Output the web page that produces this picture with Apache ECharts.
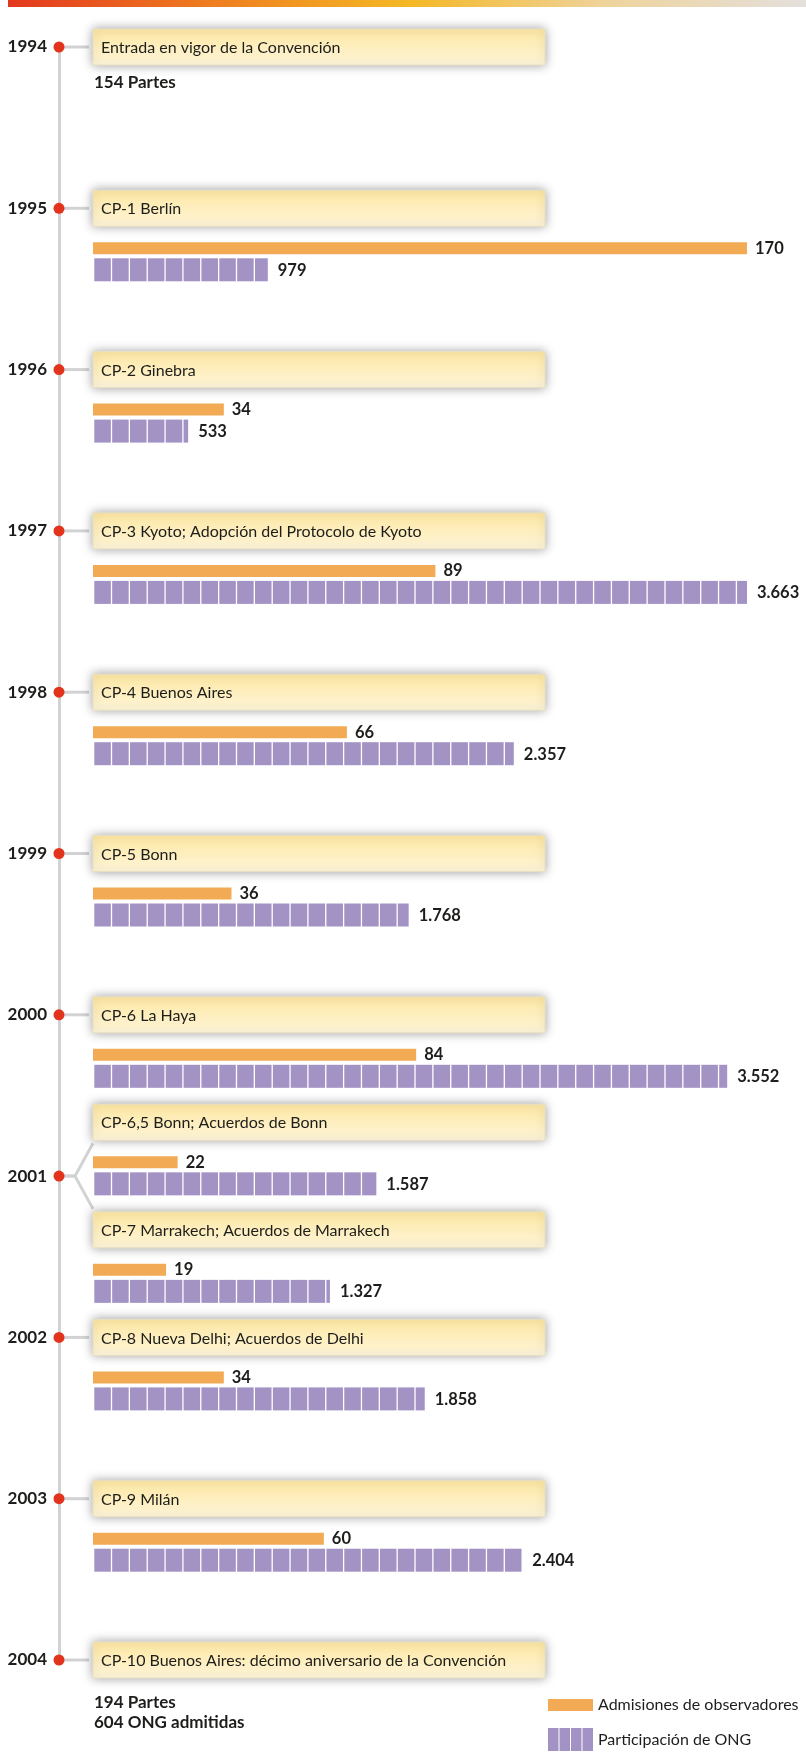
<!DOCTYPE html>
<html>
<head>
<meta charset="utf-8">
<script src="https://cdn.jsdelivr.net/npm/echarts@6/dist/echarts.min.js"></script>
<style>
  html, body { margin: 0; padding: 0; background: #ffffff; }
  #chart { width: 806px; height: 1764px; }
</style>
</head>
<body>
<div id="chart"></div>
<script>
// Timeline years and their tick labels
const years = [1994, 1995, 1996, 1997, 1998, 1999, 2000, 2001, 2002, 2003, 2004];
const yearLabels = ['1994', '1995', '1996', '1997', '1998', '1999', '2000', '2001', '2002', '2003', '2004'];

// Conferences, one entry per event
const eventYears = [1994, 1995, 1996, 1997, 1998, 1999, 2000, 2001, 2001, 2002, 2003, 2004];
const eventNames = [
  'Entrada en vigor de la Convención',
  'CP-1 Berlín',
  'CP-2 Ginebra',
  'CP-3 Kyoto; Adopción del Protocolo de Kyoto',
  'CP-4 Buenos Aires',
  'CP-5 Bonn',
  'CP-6 La Haya',
  'CP-6,5 Bonn; Acuerdos de Bonn',
  'CP-7 Marrakech; Acuerdos de Marrakech',
  'CP-8 Nueva Delhi; Acuerdos de Delhi',
  'CP-9 Milán',
  'CP-10 Buenos Aires: décimo aniversario de la Convención'
];
const eventNotes = [
  ['154 Partes'], [], [], [], [], [], [], [], [], [], [],
  ['194 Partes', '604 ONG admitidas']
];

// Series values per event (null = no data shown)
const observerAdmissions = [null, 170, 34, 89, 66, 36, 84, 22, 19, 34, 60, null];
const ngoParticipation  = [null, 979, 533, 3663, 2357, 1768, 3552, 1587, 1327, 1858, 2404, null];
const seriesNames = ['Admisiones de observadores', 'Participación de ONG'];

// ---- layout and styling ----
const ORANGE = '#f2aa55';
const PURPLE = '#a393c5';
const TEXT = '#1d1d1b';
const FONT = 'Lato, "Open Sans", sans-serif';
const BOX_W = 452, BOX_H = 36;
const NGO_UNIT = 100; // one block per 100 organisations
// vertical offsets (px below the event line) of note lines, by number of lines
const NOTE_OFFSETS = { 1: [36], 2: [43, 63] };

// events sharing a year are spread around that year on the timeline
const eventPos = eventYears.map((y, i) => {
  const group = [];
  eventYears.forEach((yy, j) => { if (yy === y) group.push(j); });
  if (group.length < 2) return y;
  const k = group.indexOf(i);
  return y + (k - (group.length - 1) / 2) * (2 / 3) / (group.length - 1);
});

function fmt(v) {
  return String(v).replace(/\B(?=(\d{3})+(?!\d))/g, '.');
}

function connectorItem(params, api) {
  const p0 = api.coord([0, api.value(1)]);
  const p1 = api.coord([0, api.value(2)]);
  let pts;
  if (Math.abs(p0[1] - p1[1]) < 0.5) {
    pts = [[p0[0], p0[1]], [p0[0] + 30, p0[1]]];
  } else {
    const dir = p1[1] < p0[1] ? 1 : -1;
    pts = [[p0[0], p0[1]], [p0[0] + 16, p0[1]], [p0[0] + 34, p1[1] + dir * 21]];
  }
  return {
    type: 'polyline',
    shape: { points: pts },
    style: { stroke: '#d2d2d2', lineWidth: 3, fill: null, lineJoin: 'round' }
  };
}

function boxItem(params, api) {
  const idx = api.value(2);
  const p = api.coord([0, api.value(1)]);
  const children = [
    {
      type: 'rect',
      shape: { x: p[0], y: p[1] - BOX_H / 2, width: BOX_W, height: BOX_H },
      style: {
        fill: { type: 'linear', x: 0, y: 0, x2: 0, y2: 1,
          colorStops: [{ offset: 0, color: '#fde7a2' }, { offset: 1, color: '#fff6da' }] },
        stroke: '#e8dfc2', lineWidth: 1,
        shadowBlur: 10, shadowColor: 'rgba(0,0,0,0.35)'
      }
    },
    {
      type: 'text',
      x: p[0] + 8, y: p[1] + 1,
      style: { text: eventNames[idx], fill: TEXT, fontSize: 16, fontFamily: FONT, verticalAlign: 'middle' }
    }
  ];
  const notes = eventNotes[idx];
  const offs = NOTE_OFFSETS[notes.length] || [];
  notes.forEach((line, k) => {
    children.push({
      type: 'text',
      x: p[0] + 1, y: p[1] + offs[k],
      style: { text: line, fill: TEXT, fontSize: 17, fontWeight: 'bold', fontFamily: FONT, verticalAlign: 'middle' }
    });
  });
  return { type: 'group', children };
}

function observerItem(params, api) {
  const v = api.value(0);
  const pos = api.value(1);
  const a = api.coord([0, pos]);
  const b = api.coord([v, pos]);
  return {
    type: 'group',
    children: [
      { type: 'rect', shape: { x: a[0], y: a[1] + 34, width: b[0] - a[0], height: 12 },
        style: { fill: ORANGE } },
      { type: 'text', x: b[0] + 8, y: a[1] + 40,
        style: { text: fmt(v), fill: TEXT, fontSize: 16.5, fontWeight: 'bold', fontFamily: FONT, verticalAlign: 'middle' } }
    ]
  };
}

function ngoItem(params, api) {
  const v = api.value(0);
  const pos = api.value(1);
  const a = api.coord([0, pos]);
  const b = api.coord([v, pos]);
  const unit = api.coord([NGO_UNIT, pos])[0] - a[0];
  const children = [];
  for (let k = 0; a[0] + k * unit < b[0]; k++) {
    const x = a[0] + k * unit + 1.3;
    const w = Math.min(a[0] + (k + 1) * unit, b[0]) - x;
    if (w <= 0) continue;
    children.push({ type: 'rect', shape: { x: x, y: a[1] + 50, width: w, height: 23 }, style: { fill: PURPLE } });
  }
  children.push({ type: 'text', x: b[0] + 10, y: a[1] + 62,
    style: { text: fmt(v), fill: TEXT, fontSize: 16.5, fontWeight: 'bold', fontFamily: FONT, verticalAlign: 'middle' } });
  return { type: 'group', children };
}

const observerData = [];
const ngoData = [];
eventNames.forEach((n, i) => {
  if (observerAdmissions[i] != null) observerData.push([observerAdmissions[i], eventPos[i], i]);
  if (ngoParticipation[i] != null) ngoData.push([ngoParticipation[i], eventPos[i], i]);
});

const chart = echarts.init(document.getElementById('chart'), null, { renderer: 'canvas' });
chart.setOption({
  animation: false,
  backgroundColor: '#ffffff',
  textStyle: { fontFamily: FONT },
  graphic: [{
    type: 'rect', left: 8, top: 0, silent: true,
    shape: { width: 798, height: 7 },
    style: { fill: { type: 'linear', x: 0, y: 0, x2: 1, y2: 0, colorStops: [
      { offset: 0, color: '#e3381f' }, { offset: 0.25, color: '#ee7c1f' },
      { offset: 0.5, color: '#f4b824' }, { offset: 0.75, color: '#efd39c' },
      { offset: 1, color: '#e4e0dc' }] } }
  }],
  grid: [
    { left: 59, top: 47, width: 34, height: 1613 },
    { left: 93, top: 47, width: 654, height: 1613 }
  ],
  xAxis: [
    { gridIndex: 0, type: 'value', min: 0, max: 1, show: false },
    { gridIndex: 1, type: 'value', min: 0, max: Math.max(...observerAdmissions), show: false },
    { gridIndex: 1, type: 'value', min: 0, max: Math.max(...ngoParticipation), show: false }
  ],
  yAxis: [
    {
      gridIndex: 0, type: 'value', min: years[0], max: years[years.length - 1], interval: 1, inverse: true,
      axisLine: { show: true, onZero: false, lineStyle: { color: '#d2d2d2', width: 3 } },
      axisTick: { show: false },
      splitLine: { show: false },
      axisLabel: {
        margin: 12, color: TEXT, fontSize: 17, fontWeight: 'bold', fontFamily: FONT,
        formatter: v => { const i = years.indexOf(v); return i >= 0 ? yearLabels[i] : ''; }
      }
    },
    { gridIndex: 1, type: 'value', min: years[0], max: years[years.length - 1], inverse: true, show: false }
  ],
  legend: [
    {
      data: [{ name: seriesNames[0], icon: 'rect' }],
      left: 548, top: 1697, padding: 0, itemWidth: 45, itemHeight: 12, selectedMode: false,
      textStyle: { color: TEXT, fontSize: 16, fontFamily: FONT }
    },
    {
      data: [{ name: seriesNames[1], icon: 'path://M0,0H10.5V23H0Z M11.5,0H22V23H11.5Z M23,0H33.5V23H23Z M34.5,0H45V23H34.5Z' }],
      left: 548, top: 1728, padding: 0, itemWidth: 45, itemHeight: 23, selectedMode: false,
      textStyle: { color: TEXT, fontSize: 16, fontFamily: FONT }
    }
  ],
  series: [
    {
      type: 'custom', name: 'conectores', xAxisIndex: 0, yAxisIndex: 0, z: 1, silent: true, clip: false,
      data: eventYears.map((y, i) => [0, y, eventPos[i]]),
      renderItem: connectorItem
    },
    {
      type: 'scatter', name: 'años', xAxisIndex: 0, yAxisIndex: 0, z: 6, silent: true,
      data: years.map(y => [0, y]), symbolSize: 11,
      itemStyle: { color: '#e2341d', opacity: 1 }
    },
    {
      type: 'custom', name: 'eventos', xAxisIndex: 1, yAxisIndex: 1, z: 3, silent: true, clip: false,
      data: eventNames.map((n, i) => [0, eventPos[i], i]),
      renderItem: boxItem
    },
    {
      type: 'custom', name: seriesNames[0], xAxisIndex: 1, yAxisIndex: 1, z: 4, silent: true, clip: false,
      itemStyle: { color: ORANGE },
      data: observerData, renderItem: observerItem
    },
    {
      type: 'custom', name: seriesNames[1], xAxisIndex: 2, yAxisIndex: 1, z: 4, silent: true, clip: false,
      itemStyle: { color: PURPLE },
      data: ngoData, renderItem: ngoItem
    }
  ]
});
</script>
</body>
</html>
